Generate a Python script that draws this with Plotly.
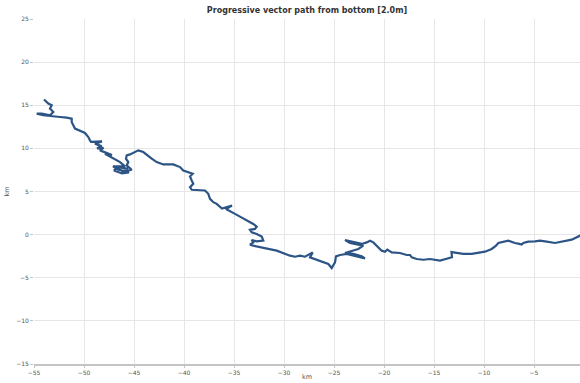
import plotly.graph_objects as go

title_text = "Progressive vector path from bottom [2.0m]"
x_label = "km"
y_label = "km"

# Progressive vector path (km east, km north), from origin westward
path_x = [0.0, -0.4, -1.23, -2.07, -2.9, -3.73, -4.4, -4.9, -5.57, -6.07, -6.23, -6.47, -6.9, -7.57,
          -8.07, -8.57, -8.8, -9.23, -9.9, -10.57, -11.23, -12.07, -12.73, -13.25, -13.2, -13.73,
          -14.4, -15.4, -16.07, -16.73, -17.23, -17.4, -17.73, -18.4, -19.23, -19.67, -19.9, -20.23,
          -20.57, -21.07, -21.4, -21.73, -22.23, -23.07, -23.9, -23.4, -22.07, -22.57, -23.4, -23.9,
          -23.07, -22.23, -21.9, -22.73, -23.73, -24.4, -24.8, -24.9, -25.07, -25.23, -25.57, -26.07,
          -26.4, -26.9, -27.4, -27.13, -27.57, -27.9, -28.4, -28.9, -29.4, -30.07, -30.73, -31.57,
          -32.4, -33.07, -33.4, -33.07, -33.23, -32.73, -32.07, -32.23, -32.73, -33.23, -33.4, -32.9,
          -32.73, -33.07, -33.57, -34.07, -34.4, -34.9, -35.23, -35.8, -35.2, -36.2, -36.73, -37.07,
          -37.4, -37.57, -37.9, -38.57, -39.23, -39.4, -39.07, -39.23, -39.4, -39.13, -39.57, -40.07,
          -40.4, -41.07, -42.07, -42.73, -43.23, -43.73, -44.07, -44.57, -44.9, -45.4, -45.73, -45.8,
          -45.57, -45.73, -45.23, -45.73, -46.23, -45.6, -46.6, -47.0, -46.2, -45.5, -46.6, -47.1,
          -45.9, -46.4, -47.23, -47.9, -47.2, -48.4, -48.05, -48.7, -48.23, -48.9, -48.2, -49.3,
          -49.4, -49.57, -49.9, -50.4, -50.9, -51.07, -51.23, -51.23, -51.73, -52.4, -53.07, -54.07,
          -54.73, -54.23, -53.4, -53.07, -53.4, -53.23, -53.57, -54.0]
path_y = [0.0, -0.12, -0.58, -0.81, -0.97, -0.81, -0.70, -0.78, -0.81, -0.97, -1.16, -1.08, -0.97, -0.70,
          -0.81, -0.97, -1.28, -1.66, -1.98, -2.13, -2.24, -2.24, -2.13, -2.03, -2.62, -2.83,
          -3.02, -2.83, -2.91, -2.83, -2.64, -2.36, -2.36, -2.13, -2.06, -1.74, -1.98, -1.86,
          -1.48, -0.90, -0.70, -0.90, -1.08, -0.90, -0.64, -0.97, -1.28, -1.66, -1.98, -2.13,
          -2.24, -2.52, -2.76, -2.52, -2.24, -2.36, -2.52, -3.22, -3.60, -3.87, -3.41, -3.22,
          -3.10, -2.83, -2.64, -2.06, -2.33, -2.56, -2.44, -2.56, -2.44, -2.17, -1.86, -1.66,
          -1.48, -1.28, -1.16, -0.90, -0.62, -0.78, -0.70, -0.23, 0.08, 0.27, 0.55, 0.66,
          0.93, 1.24, 1.55, 1.83, 2.09, 2.41, 2.59, 2.97, 3.37, 3.02, 3.57, 3.76,
          4.15, 4.73, 5.12, 5.20, 5.20, 5.50, 5.90, 6.28, 6.74, 7.06, 7.24, 7.44,
          7.83, 8.14, 8.14, 8.41, 8.80, 9.30, 9.57, 9.77, 9.57, 9.30, 9.19, 8.80,
          8.41, 8.02, 7.52, 7.36, 7.24, 7.67, 7.79, 7.44, 7.09, 7.21, 7.56, 7.91,
          7.91, 8.41, 8.99, 9.38, 9.24, 9.77, 10.06, 10.0, 10.23, 10.55, 10.81, 10.76,
          10.93, 11.31, 11.78, 12.01, 12.29, 12.67, 13.06, 13.45, 13.57, 13.64, 13.72, 13.84,
          14.03, 14.03, 13.84, 14.22, 14.62, 15.0, 15.20, 15.66]

x_ticks = [-55, -50, -45, -40, -35, -30, -25, -20, -15, -10, -5]
y_ticks = [-15, -10, -5, 0, 5, 10, 15, 20, 25]

fig = go.Figure()
fig.add_trace(go.Scatter(
    x=path_x, y=path_y, mode="lines",
    line=dict(color="#2C5586", width=2.2),
    hoverinfo="skip", showlegend=False,
))

font_family = "DejaVu Sans, Verdana, sans-serif"

fig.update_layout(
    width=580, height=383,
    margin=dict(l=34, r=0, t=19, b=19),
    paper_bgcolor="white", plot_bgcolor="white",
    font=dict(family=font_family, size=6, color="#555"),
    title=dict(text="<b>" + title_text + "</b>", x=0.5, xref="paper", xanchor="center",
               y=1 - 10 / 383, yanchor="middle", yref="container",
               font=dict(size=8, color="#333", family=font_family)),
    xaxis=dict(range=[-55, -0.4], tickvals=x_ticks, showgrid=True, gridcolor="#e6e6e6",
               gridwidth=1, zeroline=False, showline=True, linecolor="#c4c4c4", linewidth=2,
               ticks="outside", ticklen=2, tickcolor="#c4c4c4", automargin=False,
               tickfont=dict(size=6, color="#555")),
    yaxis=dict(range=[-15, 25], tickvals=y_ticks, showgrid=True, gridcolor="#e6e6e6",
               gridwidth=1, zeroline=False, showline=False, automargin=False,
               ticks="outside", ticklen=3, tickcolor="#c4c4c4", tickfont=dict(size=6, color="#555")),
    annotations=[
        dict(text=x_label, xref="paper", yref="paper", x=0.5, y=-13 / 345,
             xanchor="center", yanchor="middle", showarrow=False,
             font=dict(size=6.5, color="#555", family=font_family)),
        dict(text=y_label, xref="paper", yref="paper", x=-22 / 546, y=0.5,
             xanchor="right", yanchor="middle", textangle=-90, showarrow=False,
             font=dict(size=6.5, color="#555", family=font_family)),
    ],
)

fig.write_html("out.html", config={"displayModeBar": False},
               post_script="document.body.style.margin='0';document.body.style.overflow='hidden';")
